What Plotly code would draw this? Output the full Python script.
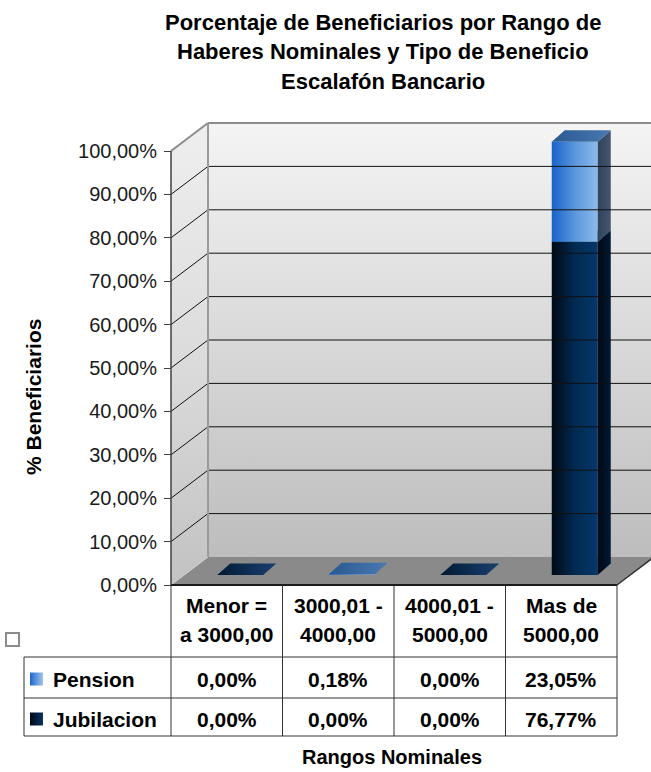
import plotly.graph_objects as go

# ---------------- data ----------------
title_lines = ["Porcentaje de Beneficiarios por Rango de",
               "Haberes Nominales y Tipo de Beneficio",
               "Escalafón Bancario"]
category_lines = [["Menor =", "a 3000,00"],
                  ["3000,01 -", "4000,00"],
                  ["4000,01 -", "5000,00"],
                  ["Mas de", "5000,00"]]
series_names = ["Pension", "Jubilacion"]
pension = [0.00, 0.18, 0.00, 23.05]
jubilacion = [0.00, 0.00, 0.00, 76.77]
y_tick_values = [0, 10, 20, 30, 40, 50, 60, 70, 80, 90, 100]
y_tick_labels = ["0,00%", "10,00%", "20,00%", "30,00%", "40,00%", "50,00%",
                 "60,00%", "70,00%", "80,00%", "90,00%", "100,00%"]
y_title = "% Beneficiarios"
x_title = "Rangos Nominales"

# ---------------- geometry (layout) ----------------
W, H = 651, 772
X0_PX, XU = 171.0, 111.5     # pixel of x=-0.5, pixels per category
Y0_PX, YU = 585.0, 4.34      # pixel of 0 %, pixels per percent


def px_x(px):
    return -0.5 + (px - X0_PX) / XU


def px_y(py):
    return (Y0_PX - py) / YU


x_range = [px_x(0), px_x(W)]
y_range = [px_y(H), px_y(0)]

DX, DY = 37 / XU, 28 / YU          # wall depth
FX, FY = 13.5 / XU, 10 / YU        # bar front-face offset
BX, BY = 13 / XU, 11.5 / YU        # bar depth
HW = 23 / XU                       # bar half width
LEFT = -0.5
RIGHT = -0.5 + len(category_lines)

FONT = "Liberation Sans, Arial, sans-serif"

fig = go.Figure()


def add_poly(xs, ys, colors, gtype="horizontal"):
    xs = list(xs) + [xs[0]]
    ys = list(ys) + [ys[0]]
    kw = {}
    if len(colors) == 1:
        kw["fillcolor"] = colors[0]
    else:
        n = len(colors)
        kw["fillgradient"] = dict(type=gtype,
                                  colorscale=[[i / (n - 1), c] for i, c in enumerate(colors)])
    fig.add_trace(go.Scatter(x=xs, y=ys, mode="lines", line=dict(width=0),
                             fill="toself", hoverinfo="skip", showlegend=False, **kw))


# walls and floor
add_poly([LEFT + DX, 4.5, 4.5, LEFT + DX], [DY, DY, 100 + DY, 100 + DY],
         ["#bdbdbd", "#d9d9d9", "#f4f4f4"], "vertical")
add_poly([LEFT, LEFT + DX, LEFT + DX, LEFT], [0, DY, 100 + DY, 100],
         ["#c2c2c2", "#dcdcdc", "#efefef"], "vertical")
add_poly([LEFT, RIGHT, RIGHT + DX, LEFT + DX], [0, 0, DY, DY], ["#8a8a8a"])

shapes = []


def line(x0, y0, x1, y1, color, width=1):
    shapes.append(dict(type="line", xref="x", yref="y", x0=x0, y0=y0, x1=x1, y1=y1,
                       line=dict(color=color, width=width), layer="above"))


for v in y_tick_values[1:-1]:
    line(LEFT + DX, v + DY, 4.5, v + DY, "#111111", 1)
    line(LEFT, v, LEFT + DX, v + DY, "#111111", 1)
line(LEFT + DX, 100 + DY, 4.5, 100 + DY, "#8c8c8c", 2)
line(LEFT, 100, LEFT + DX, 100 + DY, "#8c8c8c", 2)
line(LEFT + DX, DY, LEFT + DX, 100 + DY, "#9a9a9a", 2)
line(LEFT, 0, LEFT + DX, DY, "#d0d0d0", 1)
line(LEFT, 0, LEFT, 100, "#404040", 1.5)

# ---------------- bars (3D stacked) ----------------
styles = {
    "Jubilacion": dict(front=["#000a14", "#022a52", "#05376b"],
                       side=["#000814", "#001a36"],
                       top=["#001a33", "#1a3f70"]),
    "Pension": dict(front=["#1763c8", "#5a97dc", "#8cbbea"],
                    side=["#2f435e", "#46566d"],
                    top=["#2a5890", "#4a78b0"]),
}

for i in range(len(category_lines)):
    base = 0.0
    segs = [("Jubilacion", jubilacion[i]), ("Pension", pension[i])]
    L = i - HW + FX
    R = i + HW + FX
    drawn = False
    for name, val in segs:
        if val <= 0:
            continue
        st = styles[name]
        b = base + FY
        t = base + val + FY
        add_poly([L, R, R, L], [b, b, t, t], st["front"])
        add_poly([R, R + BX, R + BX, R], [b, b + BY, t + BY, t], st["side"])
        add_poly([L, R, R + BX, L + BX], [t, t, t + BY, t + BY], st["top"])
        base += val
        drawn = True
    if not drawn:
        st = styles["Jubilacion"]
        add_poly([L, R, R + BX, L + BX], [FY, FY, FY + BY, FY + BY], st["top"])

# floor front / right edges (drawn above bars)
line(LEFT, 0, RIGHT, 0, "#1a1a1a", 2)
line(RIGHT, 0, RIGHT + DX, DY, "#333333", 1.5)

# ---------------- data table ----------------
row_tops = [px_y(657), px_y(698), px_y(736)]
tbl_left = px_x(24)
for k in range(len(category_lines) + 1):
    line(LEFT + k, 0, LEFT + k, row_tops[-1], "#333333", 1)
for yy in row_tops:
    line(tbl_left, yy, RIGHT, yy, "#333333", 1)
line(tbl_left, row_tops[0], tbl_left, row_tops[-1], "#333333", 1)

# hollow legend box
shapes.append(dict(type="rect", xref="x", yref="y", x0=px_x(6), x1=px_x(19),
                   y0=px_y(646), y1=px_y(633), line=dict(color="#8c8c8c", width=2),
                   fillcolor="white", layer="above"))

annotations = []


def text(x, y, s, size=21, xanchor="center", bold=True, angle=0):
    annotations.append(dict(x=x, y=y, xref="x", yref="y", text=f"<b>{s}</b>" if bold else s,
                            showarrow=False, xanchor=xanchor, yanchor="middle",
                            textangle=angle,
                            font=dict(family=FONT, size=size, color="#000000")))


# title (three centred lines)
for s, yc in zip(title_lines, [22, 51.5, 81]):
    text(px_x(383), px_y(yc), s, size=22)

for i, (l1, l2) in enumerate(category_lines):
    text(i, px_y(605), l1)
    text(i, px_y(634), l2)


def fmt(v):
    return f"{v:.2f}".replace(".", ",") + "%"


row_series = {"Pension": pension, "Jubilacion": jubilacion}
row_centers = {"Pension": px_y(679), "Jubilacion": px_y(719)}
row_colors = {"Pension": ["#1e66cc", "#a0c4ee"], "Jubilacion": ["#000a18", "#0b3263"]}
for name in series_names:
    yc = row_centers[name]
    for i, v in enumerate(row_series[name]):
        text(i, yc, fmt(v))
    text(px_x(51), yc, name, xanchor="left")
    half = 6.5 / YU
    add_poly([px_x(30), px_x(43), px_x(43), px_x(30)],
             [yc - half, yc - half, yc + half, yc + half], row_colors[name])

# axis titles
text(px_x(33), px_y(397), y_title, angle=-90)
text(px_x(392), px_y(757), x_title, size=20)

fig.update_layout(
    template="none",
    width=W, height=H,
    margin=dict(l=0, r=0, t=0, b=0),
    paper_bgcolor="white", plot_bgcolor="white",
    xaxis=dict(range=x_range, visible=False, domain=[0, 1], fixedrange=True),
    yaxis=dict(range=y_range, domain=[0, 1], anchor="free", position=X0_PX / W,
               side="left", tickmode="array", tickvals=y_tick_values,
               ticktext=y_tick_labels, ticks="outside", ticklen=7,
               tickcolor="#404040", tickwidth=1, showgrid=False, zeroline=False,
               showline=False, automargin=False, ticklabelstandoff=3,
               fixedrange=True,
               tickfont=dict(family=FONT, size=20, color="#1a1a1a")),
    shapes=shapes,
    annotations=annotations,
    showlegend=False,
)

fig.write_html("out.html",
               config={"displayModeBar": False},
               post_script="document.body.style.margin='0';"
                           "document.body.style.overflow='hidden';")
